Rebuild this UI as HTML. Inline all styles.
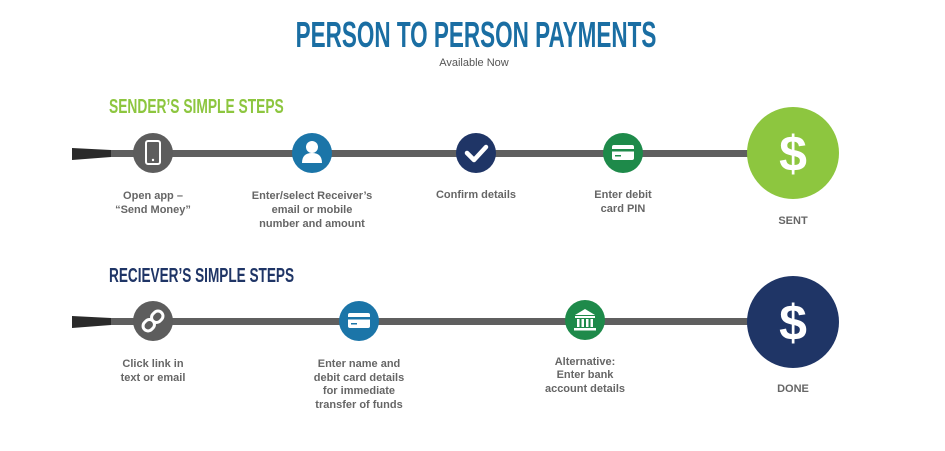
<!DOCTYPE html>
<html><head><meta charset="utf-8"><style>
html,body{margin:0;padding:0;background:#fff;width:945px;height:451px;overflow:hidden}
svg{display:block}
.t{font-family:"Liberation Sans",sans-serif;font-size:11px;fill:#666;text-anchor:middle;font-weight:bold}
.h{font-family:"Liberation Sans",sans-serif;font-weight:bold}
</style></head><body>
<svg width="945" height="451" viewBox="0 0 945 451">
<text x="476" y="47" class="h" font-size="36" fill="#1a6ea3" text-anchor="middle" transform="translate(476 0) scale(0.625 1) translate(-476 0)">PERSON TO PERSON PAYMENTS</text>
<text x="474" y="66" font-family="Liberation Sans,sans-serif" font-size="11" fill="#555" text-anchor="middle">Available Now</text>

<text x="109" y="113" class="h" font-size="20" fill="#8dc63f" transform="translate(109 0) scale(0.69 1) translate(-109 0)">SENDER’S SIMPLE STEPS</text>
<text x="109" y="282" class="h" font-size="20" fill="#1f3566" transform="translate(109 0) scale(0.68 1) translate(-109 0)">RECIEVER’S SIMPLE STEPS</text>

<rect x="110" y="150" width="680" height="7" fill="#5f5f5f"/>
<polygon points="72,148 111,150 111,157 72,160" fill="#2a2a2a"/>
<rect x="110" y="318" width="680" height="7" fill="#5f5f5f"/>
<polygon points="72,316 111,318 111,325 72,328" fill="#2a2a2a"/>

<circle cx="153" cy="153" r="20" fill="#5d5d5d"/>
<rect x="146" y="141" width="14" height="23" rx="2" fill="none" stroke="#fff" stroke-width="2"/>
<circle cx="153" cy="160" r="1.2" fill="#fff"/>

<circle cx="312" cy="153" r="20" fill="#1b75a8"/>
<circle cx="312" cy="147" r="6" fill="#fff"/>
<path d="M302 163 Q302 153 312 153 Q322 153 322 163 Z" fill="#fff"/>

<circle cx="476" cy="153" r="20" fill="#1f3566"/>
<path d="M467 153 L474 160 L486 147" stroke="#fff" stroke-width="4.5" fill="none" stroke-linecap="round" stroke-linejoin="round"/>

<circle cx="623" cy="153" r="20" fill="#1e8a4a"/>
<rect x="612" y="145" width="22" height="15" rx="2" fill="#fff"/>
<rect x="612" y="149" width="22" height="2.5" fill="#1e8a4a"/>
<rect x="615" y="155" width="6" height="1.5" fill="#1e8a4a"/>

<circle cx="793" cy="153" r="46" fill="#8dc63f"/>
<text x="793" y="171" class="h" font-size="50" fill="#fff" text-anchor="middle">$</text>

<circle cx="153" cy="321" r="20" fill="#5d5d5d"/>
<g transform="rotate(45 153 321)" fill="none" stroke="#fff" stroke-width="3">
<rect x="148" y="309" width="10" height="12" rx="5"/>
<rect x="148" y="321" width="10" height="12" rx="5"/>
</g>

<circle cx="359" cy="321" r="20" fill="#1b75a8"/>
<rect x="348" y="313" width="22" height="15" rx="2" fill="#fff"/>
<rect x="348" y="317" width="22" height="2.5" fill="#1b75a8"/>
<rect x="351" y="323" width="6" height="1.5" fill="#1b75a8"/>

<circle cx="585" cy="320" r="20" fill="#1e8a4a"/>
<polygon points="575,315 585,309 595,315" fill="#fff"/>
<rect x="575" y="316" width="20" height="2" fill="#fff"/>
<rect x="577" y="319" width="2.5" height="8" fill="#fff"/>
<rect x="581.5" y="319" width="2.5" height="8" fill="#fff"/>
<rect x="586" y="319" width="2.5" height="8" fill="#fff"/>
<rect x="590.5" y="319" width="2.5" height="8" fill="#fff"/>
<rect x="574" y="328" width="22" height="2.5" fill="#fff"/>

<circle cx="793" cy="322" r="46" fill="#1f3566"/>
<text x="793" y="340" class="h" font-size="50" fill="#fff" text-anchor="middle">$</text>

<text class="t" x="153" y="199">Open app –</text>
<text class="t" x="153" y="213">“Send Money”</text>
<text class="t" x="312" y="199">Enter/select Receiver’s</text>
<text class="t" x="312" y="213">email or mobile</text>
<text class="t" x="312" y="227">number and amount</text>
<text class="t" x="476" y="198">Confirm details</text>
<text class="t" x="623" y="198">Enter debit</text>
<text class="t" x="623" y="212">card PIN</text>
<text class="t" x="793" y="224">SENT</text>

<text class="t" x="153" y="367">Click link in</text>
<text class="t" x="153" y="381">text or email</text>
<text class="t" x="359" y="367">Enter name and</text>
<text class="t" x="359" y="381">debit card details</text>
<text class="t" x="359" y="394">for immediate</text>
<text class="t" x="359" y="408">transfer of funds</text>
<text class="t" x="585" y="365">Alternative:</text>
<text class="t" x="585" y="378">Enter bank</text>
<text class="t" x="585" y="392">account details</text>
<text class="t" x="793" y="392">DONE</text>
</svg>
</body></html>
